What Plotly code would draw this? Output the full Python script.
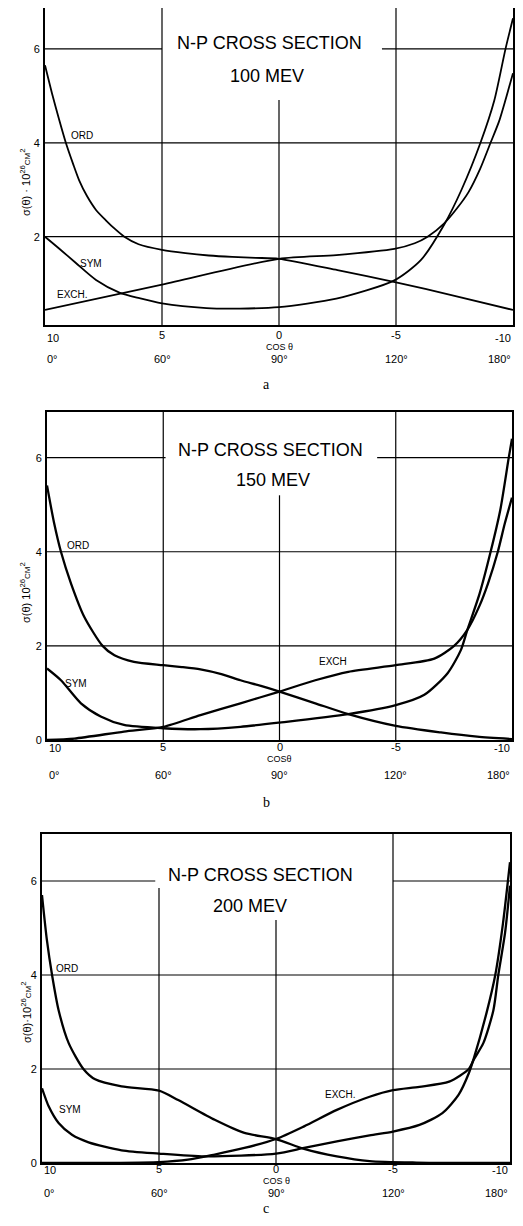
import plotly.graph_objects as go

# page is 523x1226; the html body adds an 8px margin, so the figure is drawn 8px in
PAGE_W, PAGE_H, OFF = 523, 1226, 8
W, H = PAGE_W - 2 * OFF, PAGE_H - 2 * OFF - 1

# ---------------- data ----------------
cos_ticks = [1.0, 0.5, 0.0, -0.5, -1.0]
cos_tick_text = ["10", "5", "0", "-5", "-10"]
angle_text = ["0°", "60°", "90°", "120°", "180°"]
y_ticks_a = [2, 4, 6]
y_ticks_bc = [0, 2, 4, 6]

energies = ["100 MEV", "150 MEV", "200 MEV"]
captions = ["a", "b", "c"]

# Panel a : 100 MeV
cos_ord_a = [1.0, 0.97, 0.94, 0.911, 0.88, 0.854, 0.82, 0.782, 0.74, 0.70, 0.661, 0.6, 0.5, 0.4, 0.3, 0.2, 0.1, 0.0, -0.25, -0.5, -0.75, -1.0]
ord_a = [5.65, 5.05, 4.5, 4.0, 3.55, 3.2, 2.86, 2.57, 2.35, 2.16, 2.0, 1.84, 1.72, 1.65, 1.60, 1.57, 1.55, 1.53, 1.29, 1.03, 0.74, 0.44]
cos_exch_a = [1.0, 0.5, 0.0, -0.245, -0.493, -0.58, -0.635, -0.705, -0.76, -0.81, -0.86, -0.904, -0.94, -0.97, -1.0]
exch_a = [0.44, 0.98, 1.53, 1.61, 1.74, 1.86, 2.0, 2.28, 2.6, 2.95, 3.45, 4.0, 4.45, 4.95, 5.48]
cos_sym_a = [1.0, 0.94, 0.868, 0.782, 0.682, 0.597, 0.5, 0.31, 0.167, 0.0, -0.245, -0.493, -0.606, -0.705, -0.78, -0.861, -0.92, -0.968, -1.0]
sym_a = [2.0, 1.75, 1.44, 1.08, 0.81, 0.69, 0.58, 0.48, 0.47, 0.5, 0.68, 1.07, 1.5, 2.25, 3.0, 4.0, 4.9, 6.0, 6.65]

# Panel b : 150 MeV
cos_ord_b = [1.0, 0.969, 0.94, 0.897, 0.84, 0.761, 0.71, 0.626, 0.5, 0.42, 0.34, 0.25, 0.168, 0.08, 0.0, -0.154, -0.296, -0.5, -0.694, -0.85, -1.0]
ord_b = [5.41, 4.6, 4.0, 3.33, 2.62, 2.0, 1.80, 1.66, 1.59, 1.55, 1.50, 1.40, 1.27, 1.15, 1.03, 0.78, 0.55, 0.30, 0.16, 0.07, 0.02]
cos_exch_b = [1.0, 0.883, 0.669, 0.5, 0.34, 0.168, 0.0, -0.154, -0.296, -0.5, -0.666, -0.751, -0.808, -0.86, -0.897, -0.939, -0.969, -1.0]
exch_b = [0.0, 0.03, 0.18, 0.28, 0.53, 0.78, 1.03, 1.27, 1.45, 1.59, 1.73, 2.0, 2.34, 2.85, 3.33, 4.0, 4.6, 5.15]
cos_sym_b = [1.0, 0.94, 0.854, 0.769, 0.669, 0.5, 0.34, 0.168, 0.0, -0.296, -0.5, -0.623, -0.723, -0.78, -0.808, -0.86, -0.908, -0.95, -0.986, -1.0]
sym_b = [1.52, 1.27, 0.78, 0.50, 0.32, 0.25, 0.23, 0.28, 0.37, 0.55, 0.74, 0.96, 1.42, 1.91, 2.34, 3.1, 4.0, 4.9, 6.0, 6.4]

# Panel c : 200 MeV
cos_ord_c = [1.0, 0.979, 0.957, 0.929, 0.886, 0.823, 0.773, 0.66, 0.5, 0.418, 0.262, 0.135, 0.0, -0.12, -0.26, -0.40, -0.6, -1.0]
ord_c = [5.70, 4.74, 4.0, 3.25, 2.55, 2.0, 1.78, 1.63, 1.54, 1.34, 0.92, 0.64, 0.51, 0.30, 0.14, 0.04, 0.01, 0.0]
cos_exch_c = [1.0, 0.5, 0.376, 0.262, 0.135, 0.0, -0.12, -0.26, -0.40, -0.5, -0.613, -0.74, -0.824, -0.845, -0.886, -0.929, -0.95, -0.979, -1.0]
exch_c = [0.0, 0.02, 0.07, 0.18, 0.32, 0.51, 0.78, 1.13, 1.41, 1.55, 1.62, 1.73, 2.0, 2.2, 2.55, 3.25, 4.0, 4.9, 5.9]
cos_sym_c = [1.0, 0.971, 0.929, 0.872, 0.801, 0.66, 0.5, 0.305, 0.0, -0.12, -0.26, -0.40, -0.5, -0.613, -0.711, -0.78, -0.824, -0.845, -0.9, -0.937, -0.97, -1.0]
sym_c = [1.59, 1.20, 0.85, 0.60, 0.44, 0.27, 0.20, 0.14, 0.2, 0.32, 0.46, 0.59, 0.67, 0.81, 1.06, 1.45, 1.91, 2.22, 3.2, 4.0, 5.1, 6.4]

curve_names = ["ORD", "EXCH", "SYM"]
panel_series = [
    [(cos_ord_a, ord_a), (cos_exch_a, exch_a), (cos_sym_a, sym_a)],
    [(cos_ord_b, ord_b), (cos_exch_b, exch_b), (cos_sym_b, sym_b)],
    [(cos_ord_c, ord_c), (cos_exch_c, exch_c), (cos_sym_c, sym_c)],
]
# curve label text and anchor (cos, sigma) per panel
label_text = [["ORD", "EXCH.", "SYM"], ["ORD", "EXCH", "SYM"], ["ORD", "EXCH.", "SYM"]]
label_pos = [
    [(0.841, 4.16), (0.884, 0.76), (0.803, 1.42)],
    [(0.868, 4.14), (-0.228, 1.66), (0.876, 1.20)],
    [(0.894, 4.14), (-0.275, 1.45), (0.882, 1.13)],
]

# ---------------- layout geometry (page pixels) ----------------
panels = [
    dict(l=45, r=513, t=8, b=325, yr=[0.12, 6.87], yt=y_ticks_a, lw=1.8,
         gap6=(0.5, -0.44), top0=4.91, top5=None,
         t1=(269, 43), t2=(267, 76), tick_y=(338, 335), cos_y=347, deg_y=359, cap_y=385,
         ytitle=(25, 182), ylab="σ(θ) · 10<sup>26</sup><span style='font-size:8px'>CM</span><sup>2</sup>",
         costxt="COS θ"),
    dict(l=47, r=512, t=412, b=740, yr=[0.0, 6.97], yt=y_ticks_bc, lw=2.3,
         gap6=(0.49, -0.42), top0=5.2, top5=None,
         t1=(270, 450), t2=(273, 480), tick_y=(748, 747), cos_y=759, deg_y=775, cap_y=802,
         ytitle=(25, 593), ylab="σ(θ) 10<sup>26</sup><span style='font-size:8px'>CM</span><sup>2</sup>",
         costxt="COSθ"),
    dict(l=42, r=510, t=834, b=1163, yr=[0.0, 7.0], yt=y_ticks_bc, lw=2.3,
         gap6=(0.516, -0.5), top0=5.17, top5=5.85,
         t1=(260, 875), t2=(250, 906), tick_y=(1170, 1169), cos_y=1181, deg_y=1193, cap_y=1208,
         ytitle=(26, 1013), ylab="σ(θ)·10<sup>26</sup><span style='font-size:8px'>CM</span><sup>2</sup>",
         costxt="COS θ"),
]

def px(x):
    return (x - OFF) / W

def py(y):
    return 1 - (y - OFF) / H

SANS = "Liberation Sans, Arial, sans-serif"
fig = go.Figure()
shapes = []
annotations = []

def note(text, x, y, xref, yref, size, xanchor="center", family=SANS, **kw):
    annotations.append(dict(text=text, x=x, y=y, xref=xref, yref=yref, showarrow=False,
                            xanchor=xanchor, yanchor="middle",
                            font=dict(family=family, size=size, color="black"), **kw))

for i, p in enumerate(panels):
    n = "" if i == 0 else str(i + 1)
    xa, ya = "x" + n, "y" + n
    lay_x, lay_y = "xaxis" + n, "yaxis" + n
    fig.update_layout(**{
        lay_x: dict(domain=[px(p["l"]), px(p["r"])], range=[1.0, -1.0], anchor=ya,
                    tickmode="array", tickvals=cos_ticks, ticktext=cos_tick_text,
                    showticklabels=False,
                    showgrid=False, zeroline=False, showline=True, mirror=True,
                    linecolor="black", linewidth=2, ticks="", automargin=False),
        lay_y: dict(domain=[py(p["b"]), py(p["t"])], range=p["yr"], anchor=xa,
                    tickmode="array", tickvals=p["yt"], ticktext=[str(v) for v in p["yt"]],
                    showgrid=False, zeroline=False, showline=True, mirror=True,
                    linecolor="black", linewidth=2, ticks="outside", ticklen=1,
                    tickcolor="rgba(0,0,0,0)", automargin=False,
                    tickfont=dict(family=SANS, size=11, color="black")),
    })
    y0, y1 = p["yr"]
    gl = dict(color="black", width=1.2)
    # horizontal grid lines
    for yv in p["yt"]:
        if yv == 0:
            continue
        if yv == 6:
            shapes.append(dict(type="line", xref=xa, yref=ya, x0=1.0, x1=p["gap6"][0], y0=yv, y1=yv, line=gl, layer="below"))
            shapes.append(dict(type="line", xref=xa, yref=ya, x0=p["gap6"][1], x1=-1.0, y0=yv, y1=yv, line=gl, layer="below"))
        else:
            shapes.append(dict(type="line", xref=xa, yref=ya, x0=1.0, x1=-1.0, y0=yv, y1=yv, line=gl, layer="below"))
    # vertical grid lines
    for xv in cos_ticks[1:-1]:
        top = y1
        if xv == 0.0:
            top = p["top0"]
        elif xv == 0.5 and p["top5"] is not None:
            top = p["top5"]
        shapes.append(dict(type="line", xref=xa, yref=ya, x0=xv, x1=xv, y0=y0, y1=top, line=gl, layer="below"))

    # curves
    for (cx, cy), name in zip(panel_series[i], curve_names):
        fig.add_trace(go.Scatter(x=cx, y=cy, mode="lines", name=name, xaxis=xa, yaxis=ya,
                                 line=dict(color="black", width=p["lw"], shape="spline", smoothing=0.7),
                                 showlegend=False, hoverinfo="skip"))
    # curve labels
    for txt, (lx, ly) in zip(label_text[i], label_pos[i]):
        note(txt, lx, ly, xa, ya, 10)
    # titles
    note("N-P CROSS SECTION", px(p["t1"][0]), py(p["t1"][1]), "paper", "paper", 18)
    note(energies[i], px(p["t2"][0]), py(p["t2"][1]), "paper", "paper", 18)
    # x tick labels (cos) and degree row
    for k, (xv, t, d) in enumerate(zip(cos_ticks, cos_tick_text, angle_text)):
        anchor = "center"
        if xv == 1.0:
            anchor = "left"
        elif xv == -1.0:
            anchor = "right"
        ty = p["tick_y"][0] if k in (0, 4) else p["tick_y"][1]
        note(t, xv, py(ty), xa, "paper", 11, xanchor=anchor)
        note(d, xv, py(p["deg_y"]), xa, "paper", 11, xanchor=anchor)
    note(p["costxt"], 0.0, py(p["cos_y"]), xa, "paper", 9)
    # y axis title
    note(p["ylab"], px(p["ytitle"][0]), py(p["ytitle"][1]), "paper", "paper", 11, textangle=-90)
    # caption letter
    note(captions[i], px(266), py(p["cap_y"]), "paper", "paper", 14,
         family="Liberation Serif, Times New Roman, serif")

fig.update_layout(template="none", width=W, height=H, margin=dict(l=0, r=0, t=0, b=0, autoexpand=False),
                  paper_bgcolor="white", plot_bgcolor="white",
                  shapes=shapes, annotations=annotations, showlegend=False)

fig.write_html("out.html")
